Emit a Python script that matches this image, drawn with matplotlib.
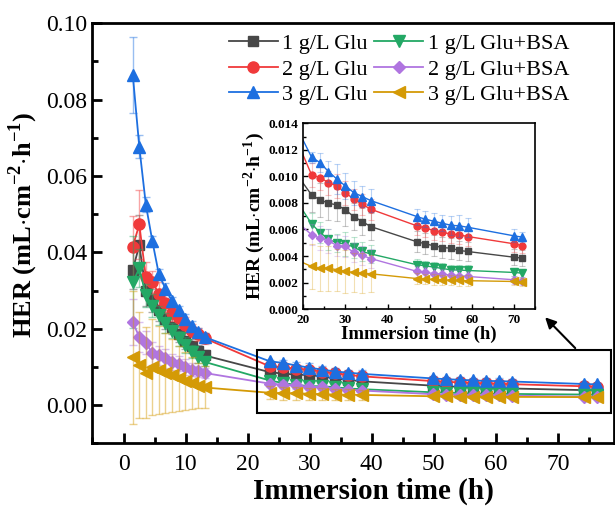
import numpy as np
import matplotlib
matplotlib.use('Agg')
import matplotlib.pyplot as plt
from matplotlib.patches import Rectangle
from matplotlib.ticker import MultipleLocator

rcParams = matplotlib.rcParams
rcParams['font.family'] = ['Liberation Serif', 'DejaVu Serif']
rcParams['mathtext.fontset'] = 'custom'
rcParams['mathtext.rm'] = 'Liberation Serif'
rcParams['mathtext.bf'] = 'Liberation Serif:bold'

#%% Data
t_early = [1, 2, 3, 4, 5, 6, 7, 8, 9, 10, 11, 12]
t_late = [22, 24, 26, 28, 30, 32, 34, 36, 47, 49, 51, 53, 55, 57, 59, 70, 72]
time = t_early + t_late

labels = ['1 g/L Glu', '2 g/L Glu', '3 g/L Glu',
          '1 g/L Glu+BSA', '2 g/L Glu+BSA', '3 g/L Glu+BSA']

glu1 = [0.0355, 0.0418, 0.0300, 0.0275, 0.0250, 0.0225, 0.0205, 0.0185, 0.0168, 0.0155, 0.0142, 0.0130,
        0.0086, 0.00823, 0.00798, 0.00785, 0.00748, 0.00697, 0.0066, 0.00622,
        0.00507, 0.00492, 0.00477, 0.00464, 0.00459, 0.00442, 0.00434, 0.00391, 0.00384]
glu2 = [0.0415, 0.0473, 0.0335, 0.0322, 0.0292, 0.0266, 0.0240, 0.0227, 0.0210, 0.0195, 0.0185, 0.0175,
        0.01011, 0.00991, 0.00953, 0.00928, 0.00878, 0.00828, 0.0079, 0.00753,
        0.00627, 0.0061, 0.00592, 0.0058, 0.00565, 0.0056, 0.00547, 0.00492, 0.00479]
glu3 = [0.0865, 0.0676, 0.0525, 0.0429, 0.0342, 0.0305, 0.0272, 0.0248, 0.0226, 0.0208, 0.0192, 0.0178,
        0.01144, 0.01104, 0.01036, 0.0098, 0.00928, 0.00878, 0.00848, 0.00818,
        0.00697, 0.00677, 0.00662, 0.00647, 0.00632, 0.00627, 0.00617, 0.00552, 0.00542]
bsa1 = [0.0322, 0.0358, 0.0287, 0.0260, 0.0235, 0.0215, 0.0195, 0.0175, 0.0157, 0.0140, 0.0125, 0.0113,
        0.00642, 0.00577, 0.00527, 0.00497, 0.00492, 0.00467, 0.00434, 0.00416,
        0.00334, 0.00326, 0.00316, 0.00306, 0.00296, 0.00294, 0.00291, 0.00276, 0.00271]
bsa2 = [0.0217, 0.0178, 0.0163, 0.0136, 0.0130, 0.0123, 0.0113, 0.0108, 0.0100, 0.0093, 0.0088, 0.0084,
        0.0056, 0.00534, 0.00514, 0.00479, 0.00472, 0.00427, 0.00404, 0.00381,
        0.00284, 0.00276, 0.00268, 0.00263, 0.00256, 0.00251, 0.00246, 0.00221, 0.00213]
bsa3 = [0.0125, 0.0105, 0.0085, 0.0100, 0.0092, 0.0085, 0.0078, 0.0070, 0.0063, 0.0057, 0.0051, 0.0046,
        0.00321, 0.00309, 0.00309, 0.00296, 0.00284, 0.00276, 0.00271, 0.00266,
        0.0023, 0.00226, 0.00223, 0.0022, 0.00218, 0.00216, 0.00214, 0.00208, 0.00205]

# standard deviations
err1 = [0.005, 0.008, 0.004, 0.003, 0.003, 0.0025, 0.002, 0.002, 0.002, 0.0018, 0.0016, 0.0015,
        0.0013, 0.0013, 0.0013, 0.0012, 0.0012, 0.001, 0.001, 0.001,
        0.0008, 0.0008, 0.0008, 0.0008, 0.0008, 0.0007, 0.0007, 0.0006, 0.0006]
err2 = [0.008, 0.009, 0.004, 0.003, 0.003, 0.0025, 0.002, 0.002, 0.002, 0.0018, 0.0016, 0.0015,
        0.0009, 0.0009, 0.0009, 0.0009, 0.0009, 0.0008, 0.0008, 0.0008,
        0.0007, 0.0007, 0.0007, 0.0007, 0.0007, 0.0007, 0.0007, 0.0006, 0.0006]
err3 = [0.010, 0.003, 0.002, 0.0015, 0.0015, 0.0015, 0.0012, 0.0012, 0.0012, 0.0012, 0.001, 0.001,
        0.0004, 0.0007, 0.0008, 0.0011, 0.001, 0.0009, 0.0008, 0.0009,
        0.0006, 0.0006, 0.0006, 0.0006, 0.0007, 0.0008, 0.0007, 0.0005, 0.0004]
err4 = [0.012, 0.005, 0.003, 0.003, 0.0025, 0.0025, 0.002, 0.002, 0.002, 0.0018, 0.0015, 0.0012,
        0.0008, 0.0008, 0.0008, 0.0007, 0.0009, 0.0008, 0.0007, 0.0007,
        0.0004, 0.0004, 0.0004, 0.0004, 0.0004, 0.0004, 0.0004, 0.0003, 0.0003]
err5 = [0.006, 0.004, 0.003, 0.003, 0.0025, 0.0025, 0.002, 0.002, 0.002, 0.0018, 0.0015, 0.0012,
        0.0008, 0.0009, 0.0009, 0.0008, 0.0008, 0.0007, 0.0007, 0.0007,
        0.0004, 0.0004, 0.0004, 0.0004, 0.0004, 0.0004, 0.0004, 0.0003, 0.0003]
err6 = [0.0175, 0.014, 0.012, 0.0125, 0.0115, 0.0105, 0.0095, 0.0085, 0.0075, 0.0068, 0.006, 0.0055,
        0.0017, 0.0017, 0.0017, 0.0016, 0.0016, 0.0015, 0.0015, 0.0014,
        0.0004, 0.0004, 0.0004, 0.0004, 0.0004, 0.0004, 0.0004, 0.0003, 0.0003]

series = [glu1, glu2, glu3, bsa1, bsa2, bsa3]
errors = [err1, err2, err3, err4, err5, err6]
colors = ['#474747', '#f0393a', '#1d6fe0', '#23a865', '#b075e0', '#d49a06']
markers = ['s', 'o', '^', 'v', 'D', '<']
msizes = [7, 8, 8.5, 8.5, 6.5, 8.5]

ylab = 'HER (mL$\\cdot$cm$^{\\mathbf{-2}}$$\\cdot$h$^{\\mathbf{-1}}$)'

#%% Main plot
fig = plt.figure(figsize=(6.15, 5.16), dpi=100)
rect = [0.150, 0.141, 0.848, 0.814]
ax = fig.add_axes(rect)

for y, e, c, m, ms, lab in zip(series, errors, colors, markers, msizes, labels):
    ax.errorbar(time, y, yerr=e, fmt='none', ecolor=c, alpha=0.45, elinewidth=1, capsize=3, capthick=1)
    ax.plot(time, y, color=c, marker=m, ms=ms, lw=1.3, label=lab)

# data layer and tick layer are slightly offset in the original figure
ax.set_xlim(-5.2, 74.6)
ax.set_ylim(-0.01, 0.10)
ax.set_xticks([])
ax.set_yticks([0, 0.02, 0.04, 0.06, 0.08, 0.10])
ax.set_yticklabels(['0.00', '0.02', '0.04', '0.06', '0.08', '0.10'])
ax.yaxis.set_minor_locator(MultipleLocator(0.01))
ax.tick_params(which='both', direction='in', labelsize=17, width=2)
ax.tick_params(which='major', length=7)
ax.tick_params(which='minor', length=4)
for s in ax.spines.values():
    s.set_linewidth(2)
ax.set_ylabel(ylab, fontsize=19, fontweight='bold')
ax.yaxis.set_label_coords(-0.10, 0.52)

axt = fig.add_axes(rect, frameon=False)
axt.set_xlim(-5.04, 79.0)
axt.set_ylim(0, 1)
axt.set_yticks([])
axt.xaxis.set_major_locator(MultipleLocator(10))
axt.xaxis.set_minor_locator(MultipleLocator(5))
axt.tick_params(which='both', direction='in', labelsize=17, width=2, pad=8)
axt.tick_params(which='major', length=7)
axt.tick_params(which='minor', length=4)
axt.set_xlabel('Immersion time (h)', fontsize=21, fontweight='bold')
axt.xaxis.set_label_coords(0.54, -0.082)

ax.legend(ncol=2, loc='upper left', bbox_to_anchor=(0.262, 0.975), frameon=False, fontsize=16,
          handlelength=2.2, columnspacing=0.3, handletextpad=0.2, labelspacing=0.22,
          borderaxespad=0, borderpad=0)

ax.add_patch(Rectangle((20, -0.0021), 54.2, 0.0165, fill=False, lw=1.5, ec='black', zorder=5))
ax.annotate('', xy=(63.8, 0.0235), xytext=(69.0, 0.0144),
            arrowprops=dict(arrowstyle='-|>', color='black', lw=1.5, mutation_scale=16))

#%% Inset
axi = fig.add_axes([0.493, 0.401, 0.377, 0.360])
for y, e, c, m, ms in zip(series, errors, colors, markers, msizes):
    axi.errorbar(time, y, yerr=e, fmt='none', ecolor=c, alpha=0.3, elinewidth=0.8, capsize=2, capthick=0.8)
    axi.plot(time, y, color=c, marker=m, ms=ms * 0.62, lw=1.0)
axi.set_xlim(20, 75)
axi.set_ylim(0, 0.014)
axi.xaxis.set_major_locator(MultipleLocator(10))
axi.xaxis.set_minor_locator(MultipleLocator(5))
axi.yaxis.set_major_locator(MultipleLocator(0.002))
axi.yaxis.set_minor_locator(MultipleLocator(0.001))
axi.tick_params(which='both', direction='in', labelsize=9.5, width=1)
axi.tick_params(which='major', length=3.5)
axi.tick_params(which='minor', length=2)
for lbl in axi.get_xticklabels() + axi.get_yticklabels():
    lbl.set_fontweight('bold')
for s in axi.spines.values():
    s.set_linewidth(1.2)
axi.set_xlabel('Immersion time (h)', fontsize=13.5, fontweight='bold', labelpad=0)
axi.set_ylabel(ylab, fontsize=14, fontweight='bold', labelpad=1)

fig.savefig('out.png', dpi=100)
